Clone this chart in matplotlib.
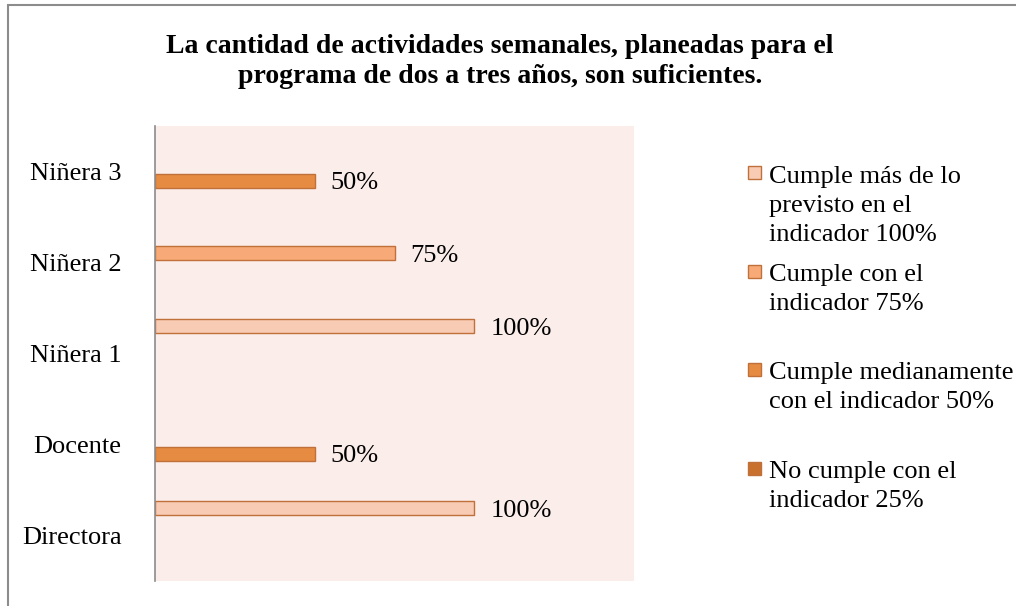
import matplotlib.pyplot as plt
import matplotlib.patches as mpatches
import numpy as np

plt.rcParams["font.family"] = ["Liberation Serif", "DejaVu Serif"]

categories = ["Directora", "Docente", "Niñera 1", "Niñera 2", "Niñera 3"]
series_names = [
    "Cumple más de lo\nprevisto en el\nindicador 100%",
    "Cumple con el\nindicador 75%",
    "Cumple medianamente\ncon el indicador 50%",
    "No cumple con el\nindicador 25%",
]
mas_de_lo_previsto = [1.0, 0, 1.0, 0, 0]
cumple_75 = [0, 0, 0, 0.75, 0]
medianamente_50 = [0, 0.5, 0, 0, 0.5]
no_cumple_25 = [0, 0, 0, 0, 0]

series_values = [mas_de_lo_previsto, cumple_75, medianamente_50, no_cumple_25]
fill_colors = ["#f8cbb4", "#f7aa78", "#e68c42", "#c8712f"]
edge_color = "#c0703a"

fig = plt.figure(figsize=(10.16, 6.06), dpi=100)
W, H = 1016, 606
ax = fig.add_axes([155 / W, 1 - 581 / H, (634 - 155) / W, (581 - 126) / H])
ax.set_facecolor("#fbede9")

y = np.arange(len(categories))
step = 0.2
bar_h = 0.155
for k, (vals, color) in enumerate(zip(series_values, fill_colors)):
    offset = (1.5 - k) * step
    for yi, v in zip(y, vals):
        if v > 0:
            ax.barh(yi + offset, v, height=bar_h, color=color,
                    edgecolor=edge_color, linewidth=1)
            ax.text(v + 0.05, yi + offset - 0.03, f"{v:.0%}", va="center",
                    ha="left", fontsize=19)

ax.set_xlim(0, 1.5)
ax.set_ylim(-0.5, len(categories) - 0.5)
ax.set_xticks([])
ax.set_yticks(y)
ax.set_yticklabels(categories, fontsize=19)
ax.tick_params(axis="y", length=0, pad=24)
for side in ["top", "right", "bottom"]:
    ax.spines[side].set_visible(False)
ax.spines["left"].set_color("#8c8c8c")
ax.spines["left"].set_linewidth(1.2)

# va="baseline" pins the last line's baseline
fig.text(500 / W, 1 - 83 / H,
         "La cantidad de actividades semanales, planeadas para el\n"
         "programa de dos a tres años, son suficientes.",
         ha="center", va="baseline", fontsize=20, fontweight="bold",
         linespacing=1.26)

# legend, placed by hand like Excel's
legend_tops = [166, 265, 363, 462]
line_px = 30
for name, color, top in zip(series_names, fill_colors, legend_tops):
    fig.patches.append(mpatches.Rectangle(
        (748 / W, 1 - (top + 13) / H), 13 / W, 13 / H,
        transform=fig.transFigure, facecolor=color, edgecolor=edge_color,
        linewidth=1))
    last_base = top + 15 + line_px * name.count("\n")
    fig.text(769 / W, 1 - last_base / H, name, ha="left", va="baseline",
             fontsize=19, linespacing=1.42)

# chart border
fig.patches.append(mpatches.Rectangle(
    (8 / W, -0.05), 1.2, 1 - 5 / H + 0.05, transform=fig.transFigure,
    facecolor="none", edgecolor="#8c8c8c", linewidth=1.5))

fig.savefig("out.png", dpi=100)
